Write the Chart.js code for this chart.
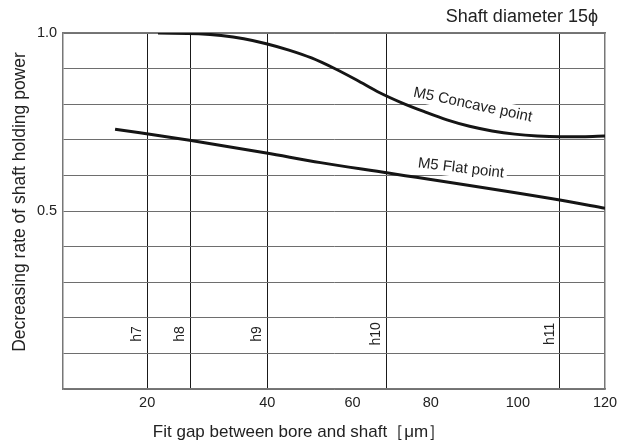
<!DOCTYPE html>
<html>
<head>
<meta charset="utf-8">
<script src="https://cdn.jsdelivr.net/npm/chart.js@4/dist/chart.umd.min.js"></script>
<style>
  html, body { margin: 0; padding: 0; background: #fff; }
  #wrap { width: 629px; height: 443px; }
</style>
</head>
<body>
<div id="wrap"><canvas id="chart" width="629" height="443"></canvas></div>
<script>
// M5 concave point curve
const concaveX = [21, 30, 35, 40, 45, 50, 55, 60, 65, 70, 75, 80, 85, 90, 95, 100, 105, 110, 115, 120];
const concaveY = [1.0, 0.998, 0.993, 0.984, 0.970, 0.952, 0.930, 0.901, 0.868, 0.833, 0.804, 0.779, 0.756, 0.738, 0.725, 0.716, 0.711, 0.709, 0.709, 0.711];

// M5 flat point curve
const flatX = [11.5, 28, 45, 57, 72, 110, 120];
const flatY = [0.730, 0.699, 0.663, 0.636, 0.607, 0.531, 0.508];

// fit tolerance lines (vertical grid) and their names
const fitValues = [18.6, 28.2, 45.2, 71.6, 110];
const fitNames = ['h7', 'h8', 'h9', 'h10', 'h11'];

// x tick labels where they sit on the picture
const xTickValues = [18.6, 45.2, 64.1, 81.4, 100.7, 120];
const xTickLabels = ['20', '40', '60', '80', '100', '120'];

// y labels
const yLabelValues = [0.5, 1.0];
const yLabelTexts = ['0.5', '1.0'];

const FONT = "'Liberation Sans', Arial, Helvetica, sans-serif";
const TEXT = '#222';

const toPoints = (xs, ys) => xs.map((x, i) => ({ x: x, y: ys[i] }));

function boxedLabel(ctx, text, x, y, angle, size) {
  ctx.save();
  ctx.translate(x, y);
  ctx.rotate(angle);
  ctx.font = size + 'px ' + FONT;
  const w = ctx.measureText(text).width;
  ctx.fillStyle = '#fff';
  ctx.fillRect(-w / 2 - 3, -size * 0.6, w + 6, size * 1.2);
  ctx.fillStyle = TEXT;
  ctx.textAlign = 'center';
  ctx.textBaseline = 'middle';
  ctx.fillText(text, 0, 0);
  ctx.restore();
}

const annotations = {
  id: 'annotations',
  beforeDatasetsDraw(chart) {
    const { ctx, scales: { x, y } } = chart;
    boxedLabel(ctx, 'M5 Concave point', x.getPixelForValue(90.7), y.getPixelForValue(0.798), 0.21, 15);
    boxedLabel(ctx, 'M5 Flat point', x.getPixelForValue(88.1), y.getPixelForValue(0.620), 0.12, 15);
  },
  afterDraw(chart) {
    const { ctx, chartArea, scales: { x, y } } = chart;
    ctx.save();
    ctx.fillStyle = TEXT;
    ctx.font = '14px ' + FONT;
    fitNames.forEach((name, i) => {
      ctx.save();
      ctx.translate(x.getPixelForValue(fitValues[i]) - 3, y.getPixelForValue(0.155));
      ctx.rotate(-Math.PI / 2);
      ctx.textAlign = 'center';
      ctx.textBaseline = 'bottom';
      ctx.fillText(name, 0, 0);
      ctx.restore();
    });

    // header
    ctx.font = '18px ' + FONT;
    ctx.textAlign = 'right';
    ctx.textBaseline = 'middle';
    ctx.fillText('Shaft diameter 15\u03D5', chartArea.right - 7, 17);

    // axis titles (sit a bit off-centre on the original)
    ctx.font = '17px ' + FONT;
    ctx.textAlign = 'center';
    ctx.fillText('Fit gap between bore and shaft\uFF3B\u03BCm\uFF3D', 299, 432);

    ctx.save();
    ctx.translate(20, 202);
    ctx.rotate(-Math.PI / 2);
    ctx.font = '17.5px ' + FONT;
    ctx.fillText('Decreasing rate of shaft holding power', 0, 0);
    ctx.restore();

    ctx.restore();
  }
};

new Chart(document.getElementById('chart'), {
  type: 'line',
  data: {
    datasets: [
      {
        label: 'M5 Concave point',
        data: toPoints(concaveX, concaveY),
        borderColor: '#151515',
        borderWidth: 3,
        pointRadius: 0,
        cubicInterpolationMode: 'monotone',
        fill: false
      },
      {
        label: 'M5 Flat point',
        data: toPoints(flatX, flatY),
        borderColor: '#151515',
        borderWidth: 3,
        pointRadius: 0,
        cubicInterpolationMode: 'monotone',
        fill: false
      }
    ]
  },
  options: {
    responsive: false,
    animation: false,
    layout: { padding: { top: 33, right: 24, bottom: 26.5, left: 31 } },
    plugins: {
      legend: { display: false },
      tooltip: { enabled: false }
    },
    scales: {
      x: {
        type: 'linear',
        position: 'bottom',
        min: 0,
        max: 120,
        afterBuildTicks: axis => { axis.ticks = xTickValues.map(v => ({ value: v })); },
        grid: { display: false, drawTicks: false },
        border: { display: true, color: '#777', width: 1.5 },
        ticks: {
          autoSkip: false,
          maxRotation: 0,
          padding: 5,
          color: TEXT,
          font: { family: FONT, size: 14.5 },
          callback: (v, i) => xTickLabels[i]
        }
      },
      xg: {
        type: 'linear',
        position: 'top',
        min: 0,
        max: 120,
        afterBuildTicks: axis => { axis.ticks = fitValues.map(v => ({ value: v })); },
        grid: { color: '#1a1a1a', lineWidth: 1, drawTicks: false },
        border: { display: true, color: '#777', width: 1.5 },
        ticks: { display: false }
      },
      y: {
        type: 'linear',
        min: 0,
        max: 1,
        ticks: {
          stepSize: 0.1,
          padding: 6,
          color: TEXT,
          font: { family: FONT, size: 14.5 },
          callback: v => {
            const i = yLabelValues.findIndex(l => Math.abs(l - v) < 1e-6);
            return i >= 0 ? yLabelTexts[i] : '';
          }
        },
        grid: { color: '#6e6e6e', lineWidth: 1, drawTicks: false },
        border: { display: true, color: '#777', width: 1.5 }
      },
      yr: {
        type: 'linear',
        position: 'right',
        min: 0,
        max: 1,
        grid: { display: false, drawTicks: false },
        border: { display: true, color: '#777', width: 1.5 },
        ticks: { display: false }
      }
    }
  },
  plugins: [annotations]
});
</script>
</body>
</html>
